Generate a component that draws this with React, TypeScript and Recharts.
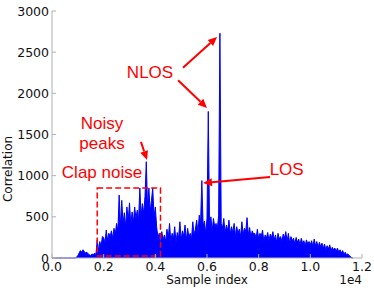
import { AreaChart, Area, XAxis, YAxis, ReferenceArea, ReferenceLine, ReferenceDot } from 'recharts';

// correlation value every STEP samples
const STEP = 50;
const CORR = [
  0, 0, 0, 0, 0, 0, 0, 0, 0, 0,
  0, 0, 0, 0, 0, 0, 0, 0, 0, 10,
  30, 60, 90, 70, 100, 80, 60, 70, 50, 40,
  30, 50, 35, 60, 40, 220, 90, 200, 140, 260,
  250, 180, 340, 210, 300, 260, 330, 240, 360, 290,
  420, 330, 765, 380, 700, 420, 550, 380, 620, 450,
  670, 400, 560, 430, 620, 480, 580, 450, 850, 520,
  660, 540, 750, 1170, 600, 850, 560, 700, 850, 500,
  620, 380, 250, 300, 180, 320, 220, 280, 200, 350,
  240, 420, 200, 300, 230, 380, 190, 310, 240, 440,
  220, 330, 260, 400, 210, 360, 250, 300, 230, 440,
  280, 350, 460, 300, 520, 410, 940, 380, 450, 300,
  480, 1780, 350, 500, 330, 480, 380, 420, 350, 520,
  2730, 420, 360, 480, 300, 400, 330, 460, 290, 380,
  310, 420, 270, 380, 300, 350, 260, 440, 290, 360,
  320, 490, 280, 370, 250, 330, 290, 300, 240, 350,
  230, 300, 260, 340, 200, 280, 240, 310, 210, 290,
  250, 320, 220, 280, 190, 300, 230, 260, 200, 290,
  240, 320, 200, 300, 180, 260, 210, 240, 170, 250,
  190, 230, 160, 240, 180, 210, 150, 220, 170, 200,
  160, 210, 140, 230, 150, 200, 130, 190, 140, 180,
  120, 170, 100, 150, 110, 160, 90, 130, 100, 120,
  80, 120, 70, 100, 60, 90, 50, 70, 40, 50,
  30, 20, 0, 0,
];

const X_TICKS = [0, 2000, 4000, 6000, 8000, 10000, 12000];
const Y_TICKS = [0, 500, 1000, 1500, 2000, 2500, 3000];

// clap noise box [x1, x2, y1, y2]
const CLAP_BOX = [1750, 4200, 25, 850];

// arrows: [fromX, fromY, toX, toY]
const ARROWS = [
  [5070, 2310, 6390, 2685],
  [4880, 2160, 6000, 1822],
  [3445, 1410, 3677, 1190],
  [8440, 984, 5845, 911],
];

// annotation texts: [text, x, y(baseline)]
const NOTES: [string, number, number][] = [
  ['NLOS', 3794, 2186],
  ['Noisy', 1936, 1567],
  ['peaks', 1936, 1324],
  ['Clap noise', 1936, 972],
  ['LOS', 9084, 1014],
];

const data = CORR.map((v, i) => ({ idx: i * STEP, corr: v }));

const FRAME = '#b0b0b0';
const TICK_FONT = { fontFamily: 'DejaVu Sans', fontSize: 12.5, fill: '#111' };

const BottomTick = ({ x, y, payload }: any) => (
  <g>
    <line x1={x} y1={y} x2={x} y2={y - 4} stroke={FRAME} />
    <text x={x} y={y + 13} textAnchor="middle" {...TICK_FONT}>
      {(payload.value / 10000).toFixed(1)}
    </text>
  </g>
);

const LeftTick = ({ x, y, payload }: any) => (
  <g>
    <line x1={x} y1={y} x2={x + 4} y2={y} stroke={FRAME} />
    <text x={x - 3} y={y + 4.5} textAnchor="end" {...TICK_FONT}>
      {payload.value}
    </text>
  </g>
);

const TopTick = ({ x, y }: any) => <line x1={x} y1={y} x2={x} y2={y + 4} stroke={FRAME} />;
const RightTick = ({ x, y }: any) => <line x1={x} y1={y} x2={x - 4} y2={y} stroke={FRAME} />;

const Arrow = (p: any) => {
  const { x1, y1, x2, y2 } = p;
  const a = Math.atan2(y2 - y1, x2 - x1);
  const len = 9;
  const w = 4;
  const bx = x2 - len * Math.cos(a);
  const by = y2 - len * Math.sin(a);
  const nx = -Math.sin(a) * w;
  const ny = Math.cos(a) * w;
  return (
    <g>
      <line x1={x1} y1={y1} x2={bx} y2={by} stroke="#ff0000" strokeWidth={2} />
      <polygon points={`${x2},${y2} ${bx + nx},${by + ny} ${bx - nx},${by - ny}`} fill="#ff0000" />
    </g>
  );
};

const noteShape = (text: string) => (p: any) => (
  <text
    x={p.cx}
    y={p.cy}
    textAnchor="middle"
    fontFamily="Liberation Sans, Arial, sans-serif"
    fontSize={17}
    fill="#ff0000"
  >
    {text}
  </text>
);

export default function App() {
  return (
    <div style={{ position: 'absolute', left: 0, top: 0, width: 374, height: 290, background: '#fff' }}>
      <AreaChart width={374} height={290} data={data} margin={{ top: 11, right: 12, bottom: 0, left: 0 }}>
        <XAxis
          xAxisId="b"
          dataKey="idx"
          type="number"
          domain={[0, 12000]}
          ticks={X_TICKS}
          height={32}
          tickSize={0}
          tickMargin={0}
          tick={BottomTick}
          axisLine={{ stroke: FRAME }}
          tickLine={false}
          interval={0}
        />
        <XAxis
          xAxisId="t"
          orientation="top"
          dataKey="idx"
          type="number"
          domain={[0, 12000]}
          ticks={X_TICKS}
          height={0}
          tickSize={0}
          tickMargin={0}
          tick={TopTick}
          axisLine={{ stroke: FRAME }}
          tickLine={false}
          interval={0}
        />
        <YAxis
          yAxisId="l"
          type="number"
          domain={[0, 3000]}
          ticks={Y_TICKS}
          width={52}
          tickSize={0}
          tickMargin={0}
          tick={LeftTick}
          axisLine={{ stroke: FRAME }}
          tickLine={false}
          interval={0}
        />
        <YAxis
          yAxisId="r"
          orientation="right"
          type="number"
          domain={[0, 3000]}
          ticks={Y_TICKS}
          width={0}
          tickSize={0}
          tickMargin={0}
          tick={RightTick}
          axisLine={{ stroke: FRAME }}
          tickLine={false}
          interval={0}
        />
        <Area
          xAxisId="b"
          yAxisId="l"
          type="linear"
          dataKey="corr"
          stroke="#0000ff"
          strokeWidth={1}
          fill="#0000ff"
          fillOpacity={1}
          isAnimationActive={false}
        />
        <ReferenceArea
          xAxisId="b"
          yAxisId="l"
          x1={CLAP_BOX[0]}
          x2={CLAP_BOX[1]}
          y1={CLAP_BOX[2]}
          y2={CLAP_BOX[3]}
          fill="none"
          fillOpacity={0}
          stroke="#ff0000"
          strokeWidth={1.5}
          strokeDasharray="6 3"
        />
        {ARROWS.map((a, i) => (
          <ReferenceLine
            key={'a' + i}
            xAxisId="b"
            yAxisId="l"
            segment={[
              { x: a[0], y: a[1] },
              { x: a[2], y: a[3] },
            ]}
            shape={Arrow}
          />
        ))}
        {NOTES.map(([t, x, y]) => (
          <ReferenceDot key={t} xAxisId="b" yAxisId="l" x={x} y={y} r={0} shape={noteShape(t)} />
        ))}
      </AreaChart>
      <svg width={374} height={290} style={{ position: 'absolute', left: 0, top: 0, pointerEvents: 'none' }}>
        <text x={207} y={284} textAnchor="middle" fontFamily="DejaVu Sans" fontSize={12} fill="#111">
          Sample index
        </text>
        <text x={362} y={284} textAnchor="end" fontFamily="DejaVu Sans" fontSize={12} fill="#111">
          1e4
        </text>
        <text
          x={0}
          y={0}
          transform="translate(11.5,169) rotate(-90)"
          textAnchor="middle"
          fontFamily="DejaVu Sans"
          fontSize={12}
          fill="#111"
        >
          Correlation
        </text>
      </svg>
    </div>
  );
}
